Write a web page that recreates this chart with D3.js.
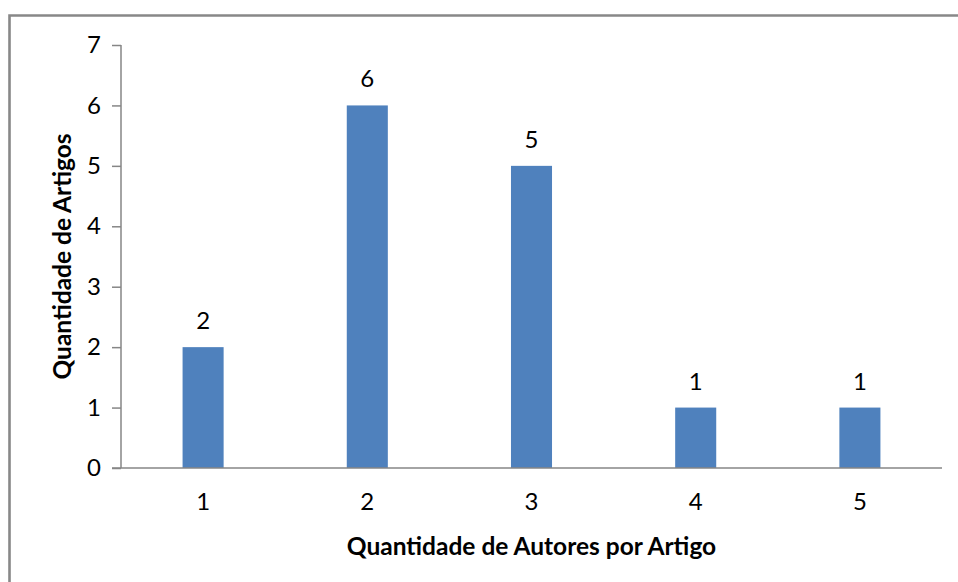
<!DOCTYPE html>
<html>
<head>
<meta charset="utf-8">
<script src="https://cdn.jsdelivr.net/npm/d3@7"></script>
<style>
  html, body { margin: 0; padding: 0; background: #fff; }
  svg { display: block; }
</style>
</head>
<body>
<svg id="chart" width="958" height="582"></svg>
<script>
// Number of authors per article and how many articles have that count
const categories = ["1", "2", "3", "4", "5"];
const values = [2, 6, 5, 1, 1];
const yTicks = [0, 1, 2, 3, 4, 5, 6, 7];
const xTitle = "Quantidade de Autores por Artigo";
const yTitle = "Quantidade de Artigos";

const W = 958, H = 582;
const margin = { left: 121, right: 16, top: 45, bottom: 114 };
const FONT = "Lato, 'Open Sans', sans-serif";
const AXIS = "#868686";
const BAR = "#4F81BD";
const TEXT = "#000";
const LABEL_SIZE = 24;
const TITLE_SIZE = 24.5;

const svg = d3.select("#chart");

// Outer chart frame (runs off the right and bottom edges)
svg.append("path")
  .attr("d", `M9.5,${H + 5} L9.5,15.5 L${W + 5},15.5`)
  .attr("fill", "none")
  .attr("stroke", "#888")
  .attr("stroke-width", 2.6);

const x = d3.scaleBand()
  .domain(categories)
  .range([margin.left, W - margin.right])
  .paddingInner(0.75)
  .paddingOuter(0.375);

const y = d3.scaleLinear()
  .domain([0, 7])
  .range([H - margin.bottom, margin.top]);

// Bars
svg.append("g").selectAll("rect")
  .data(values)
  .join("rect")
  .attr("x", (d, i) => x(categories[i]))
  .attr("width", x.bandwidth())
  .attr("y", d => y(d))
  .attr("height", d => y(0) - y(d))
  .attr("fill", BAR);

// Value labels above each bar
svg.append("g").selectAll("text")
  .data(values)
  .join("text")
  .attr("x", (d, i) => x(categories[i]) + x.bandwidth() / 2)
  .attr("y", d => y(d) - 18)
  .attr("text-anchor", "middle")
  .attr("font-family", FONT)
  .attr("font-size", LABEL_SIZE)
  .attr("fill", TEXT)
  .text(d => d);

// Y axis
const yAxis = svg.append("g")
  .attr("transform", `translate(${margin.left},0)`)
  .call(d3.axisLeft(y).tickValues(yTicks).tickFormat(d3.format("d")).tickSize(9).tickPadding(11));
yAxis.select(".domain").attr("stroke", AXIS).attr("stroke-width", 1.5).attr("d", `M0,${y(7)}H0V${y(0)}`);
yAxis.selectAll(".tick line").attr("stroke", AXIS).attr("stroke-width", 1.5);
yAxis.selectAll(".tick text")
  .attr("font-family", FONT).attr("font-size", LABEL_SIZE).attr("fill", TEXT);

// X axis (no tick marks, line extends left to the y tick length)
const xAxis = svg.append("g")
  .attr("transform", `translate(0,${y(0)})`)
  .call(d3.axisBottom(x).tickSize(0).tickPadding(25));
xAxis.select(".domain").attr("stroke", AXIS).attr("stroke-width", 1.5)
  .attr("d", `M${margin.left - 9},0H${W - margin.right}`);
xAxis.selectAll(".tick text")
  .attr("font-family", FONT).attr("font-size", LABEL_SIZE).attr("fill", TEXT);

// Axis titles
svg.append("text")
  .attr("x", (margin.left + W - margin.right) / 2)
  .attr("y", 555)
  .attr("text-anchor", "middle")
  .attr("font-family", FONT)
  .attr("font-weight", "bold")
  .attr("font-size", TITLE_SIZE)
  .attr("fill", TEXT)
  .text(xTitle);

svg.append("text")
  .attr("transform", `translate(71,${(y(0) + y(7)) / 2}) rotate(-90)`)
  .attr("text-anchor", "middle")
  .attr("font-family", FONT)
  .attr("font-weight", "bold")
  .attr("font-size", TITLE_SIZE)
  .attr("fill", TEXT)
  .text(yTitle);
</script>
</body>
</html>
